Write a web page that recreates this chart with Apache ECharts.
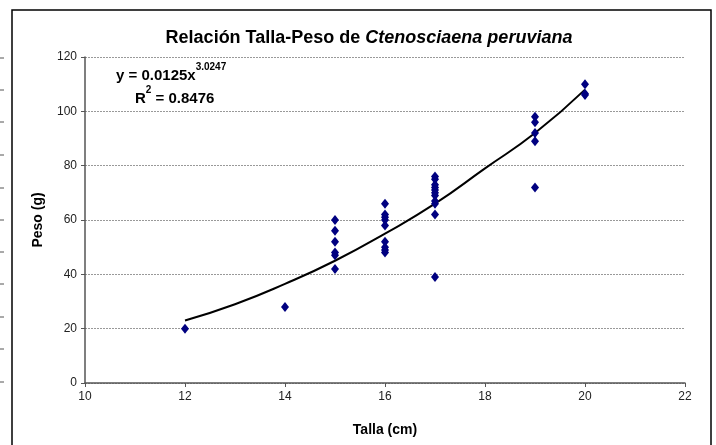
<!DOCTYPE html>
<html>
<head>
<meta charset="utf-8">
<script src="https://cdn.jsdelivr.net/npm/echarts@6/dist/echarts.min.js"></script>
<style>
  html, body { margin: 0; padding: 0; background: #fff; }
  #main { width: 716px; height: 445px; }
</style>
</head>
<body>
<div id="main"></div>
<script>
// observed points, grouped by length (cm)
var tallas = [12, 14, 15, 16, 17, 19, 20];
var pesos = [
  [20],
  [28],
  [60, 56, 52, 48, 47, 42],
  [66, 62, 61, 60, 58, 52, 50, 49, 48],
  [76, 75, 73, 72, 71, 70, 69, 67, 66, 62, 39],
  [98, 96, 92, 89, 72],
  [110, 106.5, 106]
];
// trend line
var trendX = [12, 13, 14, 15, 16, 17, 18, 19, 20];
var trendY = [23, 29, 36.5, 45, 55, 66, 79, 92, 108];

var xTicks = [10, 12, 14, 16, 18, 20, 22];
var yTicks = [0, 20, 40, 60, 80, 100, 120];

var points = [];
tallas.forEach(function (t, i) {
  pesos[i].forEach(function (p) { points.push([t, p]); });
});
var trend = trendX.map(function (x, i) { return [x, trendY[i]]; });

var dom = document.getElementById('main');
var myChart = echarts.init(dom, null, { renderer: 'canvas' });

var font = 'Liberation Sans, Arial, sans-serif';

// little tick marks of a neighbouring chart peeking in on the left
var sideTicks = [];
[58, 90, 122, 155, 188, 220, 252, 284, 317, 349, 382].forEach(function (y) {
  sideTicks.push({
    type: 'line', silent: true,
    shape: { x1: 0, y1: y, x2: 4, y2: y },
    style: { stroke: '#555', lineWidth: 1 }
  });
});

var option = {
  animation: false,
  backgroundColor: '#fff',
  textStyle: { fontFamily: font },
  title: {
    text: '{b|Relación Talla-Peso de }{i|Ctenosciaena peruviana}',
    left: 364, top: 24, textAlign: 'center',
    textStyle: {
      rich: {
        b: { fontSize: 18, fontWeight: 'bold', color: '#000', fontFamily: font },
        i: { fontSize: 18, fontWeight: 'bold', fontStyle: 'italic', color: '#000', fontFamily: font }
      }
    }
  },
  grid: { left: 85, right: 31, top: 57, bottom: 62 },
  xAxis: {
    type: 'value', min: 10, max: 22, interval: 2,
    name: 'Talla (cm)', nameLocation: 'middle', nameGap: 40,
    nameTextStyle: { fontSize: 14, fontWeight: 'bold', color: '#000' },
    axisLine: { lineStyle: { color: '#555', width: 1.5 } },
    axisTick: { show: true, length: 4, lineStyle: { color: '#555' } },
    axisLabel: { fontSize: 12, color: '#222', margin: 8 },
    splitLine: { show: false }
  },
  yAxis: {
    type: 'value', min: 0, max: 120, interval: 20,
    name: 'Peso (g)', nameLocation: 'middle', nameGap: 40,
    nameTextStyle: { fontSize: 14, fontWeight: 'bold', color: '#000' },
    axisLine: { show: true, lineStyle: { color: '#555', width: 1.5 } },
    axisTick: { show: true, length: 4, lineStyle: { color: '#555' } },
    axisLabel: { fontSize: 12, color: '#222', margin: 8 },
    splitLine: { show: true, lineStyle: { color: '#999', type: [2, 1], width: 1 } }
  },
  series: [
    {
      type: 'line',
      data: trend,
      smooth: true,
      showSymbol: false,
      lineStyle: { color: '#000', width: 2 },
      z: 3
    },
    {
      type: 'scatter',
      data: points,
      symbol: 'diamond',
      symbolSize: [8, 10],
      itemStyle: { color: '#000080', opacity: 1 },
      z: 4
    }
  ],
  graphic: [
    {
      type: 'rect', silent: true,
      shape: { x: 12, y: 10, width: 699, height: 445 },
      style: { fill: null, stroke: '#000', lineWidth: 1.5 }
    },
    {
      type: 'text', silent: true,
      left: 116, top: 60,
      style: {
        text: '{m|y = 0.0125x}{s|3.0247}\n{r|R}{s|2}{m| = 0.8476}',
        rich: {
          m: { fontSize: 15, fontWeight: 'bold', fontFamily: font, color: '#000', lineHeight: 23, verticalAlign: 'bottom' },
          r: { fontSize: 15, fontWeight: 'bold', fontFamily: font, color: '#000', lineHeight: 23, verticalAlign: 'bottom', padding: [0, 0, 0, 19] },
          s: { fontSize: 10, fontWeight: 'bold', fontFamily: font, color: '#000', lineHeight: 23, verticalAlign: 'top', padding: [2, 0, 0, 0] }
        }
      }
    }
  ].concat(sideTicks)
};

myChart.setOption(option);
window.addEventListener('resize', myChart.resize);
</script>
</body>
</html>
